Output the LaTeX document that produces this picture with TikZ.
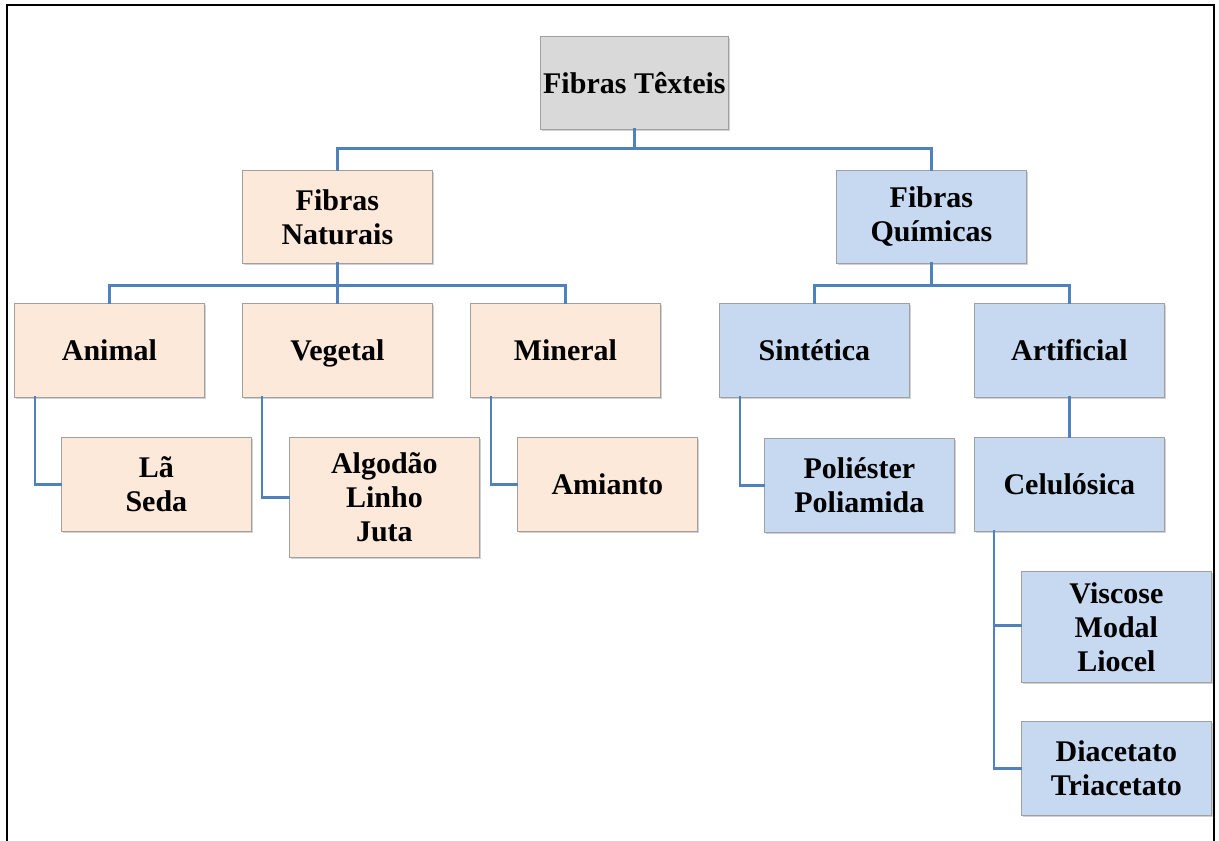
\documentclass[tikz,border=0pt]{standalone}
\usepackage{fontspec}
\setmainfont{Liberation Serif}
\usetikzlibrary{shadows}
\definecolor{linkblue}{HTML}{4F81BD}
\definecolor{rootfill}{HTML}{D9D9D9}
\definecolor{natfill}{HTML}{FCE9DA}
\definecolor{chemfill}{HTML}{C6D9F0}
\definecolor{boxedge}{HTML}{A0A0A0}
\tikzset{
  box/.style={draw=boxedge, line width=0.8pt, anchor=north west, inner sep=0pt,
    align=center, font=\fontsize{30}{34}\selectfont\bfseries,
    drop shadow={shadow xshift=1.5pt, shadow yshift=-1.5pt, fill=black!35, opacity=0.5}},
  rootbox/.style={box, fill=rootfill},
  natbox/.style={box, fill=natfill},
  chembox/.style={box, fill=chemfill},
  link/.style={draw=linkblue, line width=2.9pt, line cap=rect},
  frame/.style={draw=black, line width=2.6pt}
}
\newcommand{\bx}[7]{% name, style, x1, y1, x2, y2, text
  \node[#2, minimum width={(#5-#3)*1pt}, minimum height={(#6-#4)*1pt}] (#1) at (#3,#4) {#7};}
\newcommand{\nodepth}[1]{\raisebox{0pt}[\height][0pt]{#1}}
\begin{document}
\begin{tikzpicture}[x=1pt, y=-1pt]
  \useasboundingbox (0,0) rectangle (1219,841);
  % outer frame, open at the bottom
  \draw[frame] (7,845) -- (7,5) -- (1214,5) -- (1214,845);

  % boxes
  \bx{root}{rootbox}{540}{36}{728}{129}{Fibras Têxteis}
  \bx{nat}{natbox}{242}{170}{432}{263}{Fibras\\Naturais}
  \bx{chem}{chembox}{836}{170}{1026}{263}{Fibras\\Químicas}
  \bx{animal}{natbox}{14}{303}{204}{397}{Animal}
  \bx{veg}{natbox}{242}{303}{432}{397}{\nodepth{Vegetal}}
  \bx{min}{natbox}{470}{303}{660}{397}{Mineral}
  \bx{sint}{chembox}{719}{303}{909}{397}{Sintética}
  \bx{art}{chembox}{974}{303}{1164}{397}{Artificial}
  \bx{la}{natbox}{61}{437}{251}{531}{Lã\\Seda}
  \bx{alg}{natbox}{289}{437}{479}{557}{Algodão\\Linho\\Juta}
  \bx{ami}{natbox}{517}{437}{697}{531}{Amianto}
  \bx{poli}{chembox}{764}{438}{954}{532}{Poliéster\\Poliamida}
  \bx{cel}{chembox}{974}{437}{1164}{531}{Celulósica}
  \bx{visc}{chembox}{1021}{571}{1211}{682}{Viscose\\Modal\\Liocel}
  \bx{diac}{chembox}{1021}{721}{1211}{815}{Diacetato\\Triacetato}

  % connectors
  \draw[link] (root.south) -- ++(0,19) -| (nat.north);
  \draw[link] (root.south) -- ++(0,19) -| (chem.north);
  \draw[link] (nat.south) -- ++(0,22) -| (animal.north);
  \draw[link] (nat.south) -- (veg.north);
  \draw[link] (nat.south) -- ++(0,22) -| (min.north);
  \draw[link] (chem.south) -- ++(0,22) -| (sint.north);
  \draw[link] (chem.south) -- ++(0,22) -| (art.north);
  \draw[link] (art.south) -- (cel.north);
  \draw[link] ([xshift=21pt]animal.south west) |- (la.west);
  \draw[link] ([xshift=20pt]veg.south west) |- (alg.west);
  \draw[link] ([xshift=21pt]min.south west) |- (ami.west);
  \draw[link] ([xshift=21pt]sint.south west) |- (poli.west);
  \draw[link] ([xshift=20pt]cel.south west) |- ([yshift=1pt]visc.west);
  \draw[link] ([xshift=20pt]cel.south west) |- (diac.west);
\end{tikzpicture}
\end{document}
